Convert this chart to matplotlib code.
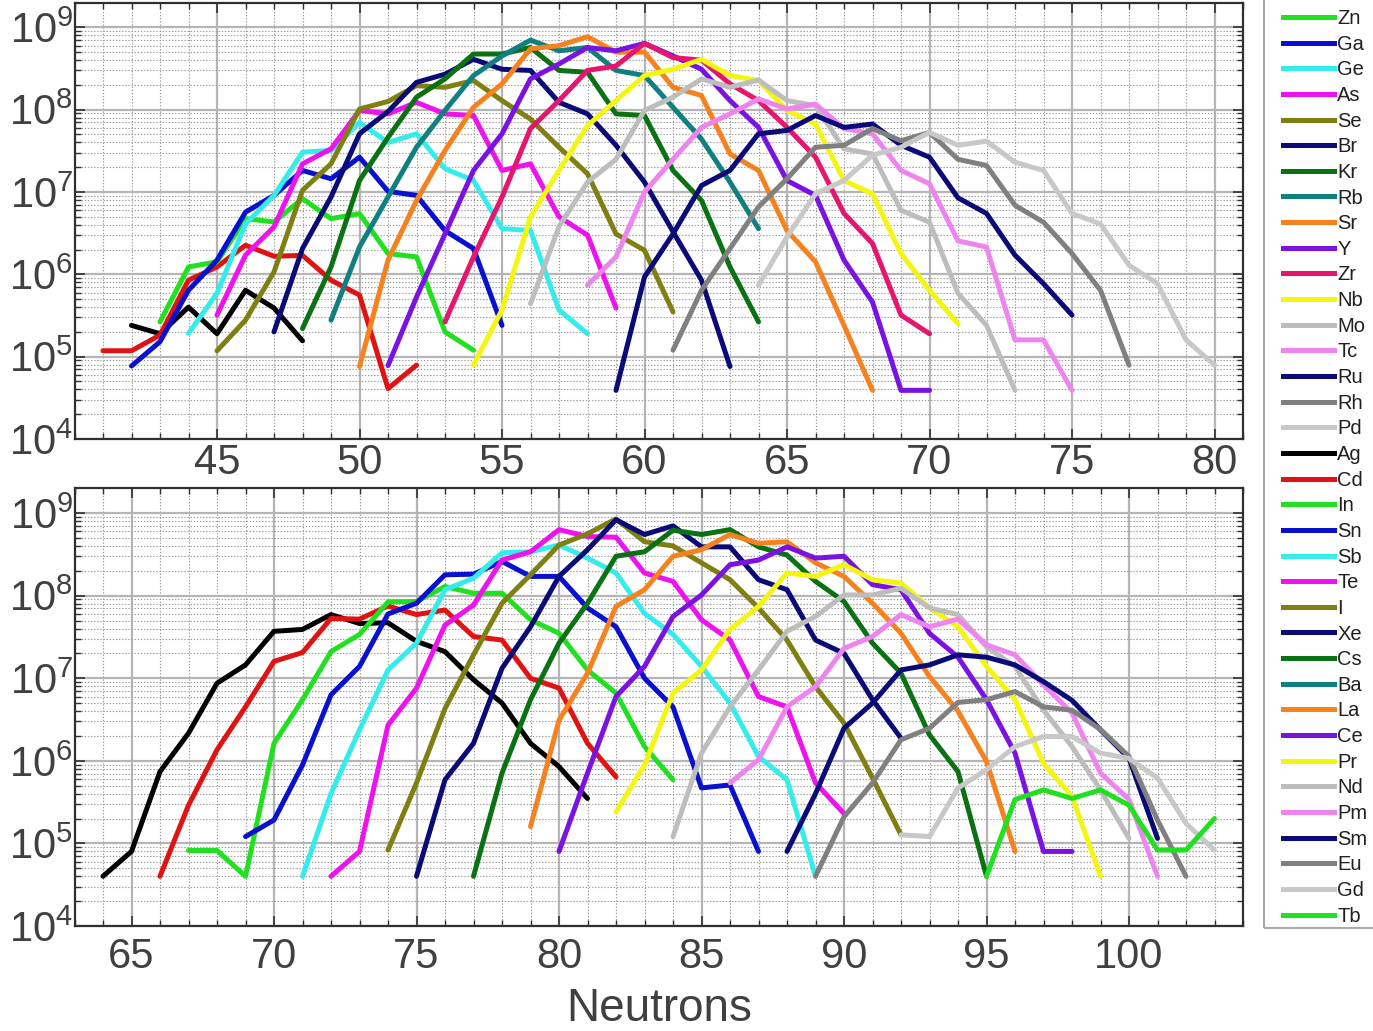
import matplotlib
matplotlib.use("Agg")
import matplotlib.pyplot as plt
from matplotlib.lines import Line2D
from matplotlib.patches import Rectangle
from matplotlib.ticker import MultipleLocator, LogLocator, NullFormatter, FixedLocator
import numpy as np

plt.rcParams['font.family'] = ['Liberation Sans', 'DejaVu Sans']
plt.rcParams['mathtext.fontset'] = 'custom'
plt.rcParams['mathtext.rm'] = 'Liberation Sans'
plt.rcParams['mathtext.it'] = 'Liberation Sans:italic'
plt.rcParams['mathtext.default'] = 'regular'

# ---------------- colours ----------------
C_GREEN = '#20e020'
C_BLUE = '#0a10d0'
C_CYAN = '#35ecec'
C_MAGENTA = '#ee12ee'
C_OLIVE = '#7f7f12'
C_NAVY = '#0a0a78'
C_DKGREEN = '#0a7212'
C_TEAL = '#0f7f7f'
C_ORANGE = '#f5821f'
C_PURPLE = '#7a12e2'
C_CRIMSON = '#e6156e'
C_YELLOW = '#f5f512'
C_SILVER = '#bdbdbd'
C_PINK = '#ee85ee'
C_GRAY = '#808080'
C_LTGRAY = '#c8c8c8'
C_BLACK = '#000000'
C_RED = '#e01212'

# ---------------- data: top panel (first neutron number, yields) ----------------
Ni_N = 42; Ni = [2.4e5, 1.9e5, 4.0e5, 1.9e5, 6.4e5, 3.9e5, 1.56e5]
Cu_N = 41; Cu = [1.18e5, 1.18e5, 1.83e5, 8.5e5, 1.23e6, 2.26e6, 1.66e6, 1.7e6, 8.5e5, 5.6e5, 4.1e4, 7.9e4]
Zn_N = 43; Zn = [2.65e5, 1.23e6, 1.42e6, 4.75e6, 4.33e6, 8.3e6, 4.75e6, 5.46e6, 1.79e6, 1.63e6, 2.0e5, 1.2e5]
Ga_N = 42; Ga = [7.7e4, 1.52e5, 6.4e5, 1.49e6, 5.7e6, 9.1e6, 1.83e7, 1.45e7, 2.65e7, 1.02e7, 9.1e6, 3.4e6, 2.06e6, 2.4e5]
Ge_N = 44; Ge = [1.92e5, 5.9e5, 4.1e6, 9.1e6, 3.05e7, 3.2e7, 7.0e7, 4.0e7, 5.1e7, 1.92e7, 1.38e7, 3.6e6, 3.4e6, 3.7e5, 1.9e5]
As_N = 45; As = [3.2e5, 1.71e6, 3.77e6, 2.2e7, 3.35e7, 9.8e7, 8.9e7, 1.23e8, 8.9e7, 8.5e7, 1.83e7, 2.2e7, 5.0e6, 3.0e6, 3.9e5]
Se_N = 45; Se = [1.18e5, 2.78e5, 1.07e6, 1.05e7, 2.2e7, 1.02e8, 1.26e8, 1.96e8, 1.87e8, 2.26e8, 1.29e8, 7.7e7, 3.5e7, 1.67e7, 3.1e6, 1.96e6, 3.5e5]
Br_N = 47; Br = [2.0e5, 2.06e6, 8.7e6, 5.1e7, 9.5e7, 2.15e8, 2.7e8, 4.1e8, 3.1e8, 3.0e8, 1.23e8, 8.9e7, 3.7e7, 1.32e7, 3.3e6, 8.5e5, 7.6e4]
Kr_N = 48; Kr = [2.2e5, 1.23e6, 1.38e7, 4.6e7, 1.42e8, 2.37e8, 4.75e8, 4.75e8, 5.7e8, 3.0e8, 2.85e8, 8.9e7, 8.5e7, 1.83e7, 7.9e6, 1.23e6, 2.65e5]
Rb_N = 49; Rb = [2.78e5, 2.15e6, 8.7e6, 3.5e7, 9.8e7, 2.6e8, 4.5e8, 7.0e8, 5.2e8, 5.7e8, 3.0e8, 2.6e8, 1.07e8, 4.4e7, 1.32e7, 3.6e6]
Sr_N = 50; Sr = [7.6e4, 1.49e6, 7.9e6, 3.2e7, 1.07e8, 2.06e8, 5.5e8, 6.0e8, 7.7e8, 5.0e8, 5.0e8, 1.87e8, 1.49e8, 2.9e7, 1.83e7, 3.4e6, 1.42e6, 2.4e5, 3.9e4]
Y_N = 51; Y = [7.8e4, 5.3e5, 3.1e6, 1.83e7, 5.1e7, 2.37e8, 3.6e8, 5.7e8, 5.2e8, 6.4e8, 4.5e8, 3.1e8, 1.29e8, 6.1e7, 1.38e7, 9.1e6, 1.49e6, 4.6e5, 3.9e4, 3.9e4]
Zr_N = 53; Zr = [2.65e5, 1.63e6, 8.7e6, 5.9e7, 1.29e8, 3.0e8, 3.4e8, 6.4e8, 4.3e8, 4.0e8, 2.06e8, 1.29e8, 6.1e7, 2.65e7, 5.5e6, 2.37e6, 3.2e5, 1.9e5]
Nb_N = 54; Nb = [7.9e4, 3.7e5, 5.0e6, 1.83e7, 6.4e7, 1.29e8, 2.6e8, 3.1e8, 4.1e8, 2.6e8, 2.26e8, 9.8e7, 6.7e7, 1.38e7, 9.5e6, 1.79e6, 6.4e5, 2.5e5]
Mo_N = 56; Mo = [4.4e5, 3.8e6, 1.32e7, 2.5e7, 9.8e7, 1.42e8, 2.37e8, 1.87e8, 2.3e8, 1.29e8, 1.12e8, 3.35e7, 2.9e7, 6.0e6, 4.3e6, 5.9e5, 2.4e5, 3.9e4]
Tc_N = 58; Tc = [7.4e5, 1.63e6, 1.0e7, 2.5e7, 6.1e7, 8.9e7, 1.35e8, 1.02e8, 1.17e8, 5.9e7, 5.1e7, 1.83e7, 1.26e7, 2.55e6, 2.15e6, 1.6e5, 1.6e5, 3.9e4]
Ru_N = 59; Ru = [3.9e4, 9.3e5, 3.1e6, 1.2e7, 1.83e7, 5.1e7, 5.6e7, 8.5e7, 6.1e7, 6.7e7, 3.7e7, 2.65e7, 8.5e6, 5.5e6, 1.71e6, 7.7e5, 3.2e5]
Rh_N = 61; Rh = [1.2e5, 6.4e5, 2.06e6, 6.6e6, 1.45e7, 3.5e7, 3.7e7, 5.9e7, 4.2e7, 5.3e7, 2.5e7, 2.1e7, 6.9e6, 4.3e6, 1.79e6, 6.4e5, 7.9e4]
Pd_N = 64; Pd = [7.4e5, 2.85e6, 9.5e6, 1.38e7, 2.8e7, 3.5e7, 5.3e7, 3.7e7, 4.15e7, 2.3e7, 1.83e7, 5.5e6, 4.1e6, 1.29e6, 7.7e5, 1.6e5, 7.9e4]

# ---------------- data: bottom panel ----------------
Ag_N = 64; Ag = [4.0e4, 8.0e4, 7.4e5, 2.16e6, 8.7e6, 1.45e7, 3.7e7, 3.9e7, 5.9e7, 4.6e7, 4.7e7, 2.8e7, 2.1e7, 9.6e6, 5.0e6, 1.63e6, 8.5e5, 3.5e5]
Cd_N = 66; Cd = [4.0e4, 2.9e5, 1.36e6, 4.5e6, 1.6e7, 2.05e7, 5.3e7, 5.2e7, 7.5e7, 5.9e7, 6.7e7, 3.2e7, 2.9e7, 1.0e7, 7.6e6, 1.63e6, 6.4e5]
In_N = 67; In = [8.2e4, 8.2e4, 4.0e4, 1.63e6, 5.5e6, 2.1e7, 3.4e7, 8.4e7, 8.5e7, 1.29e8, 1.07e8, 1.07e8, 5.1e7, 3.5e7, 1.26e7, 6.6e6, 1.49e6, 5.9e5]
Sn_N = 69; Sn = [1.21e5, 1.92e5, 8.9e5, 6.3e6, 1.39e7, 6.0e7, 8.1e7, 1.79e8, 1.82e8, 2.6e8, 1.71e8, 1.71e8, 7.1e7, 4.2e7, 1.0e7, 4.5e6, 4.7e5, 5.1e5, 8.0e4]
Sb_N = 71; Sb = [4.0e4, 4.0e5, 2.37e6, 1.26e7, 2.66e7, 1.18e8, 1.63e8, 3.3e8, 3.4e8, 4.1e8, 2.85e8, 1.88e8, 6.1e7, 3.4e7, 1.39e7, 5.0e6, 1.13e6, 5.9e5, 4.0e4]
Te_N = 72; Te = [4.0e4, 8.0e4, 2.7e6, 7.6e6, 4.4e7, 7.7e7, 2.7e8, 3.4e8, 6.3e8, 5.2e8, 5.1e8, 1.88e8, 1.49e8, 5.1e7, 2.9e7, 6.0e6, 4.5e6, 5.4e5, 2.3e5]
I_N = 74; I = [8.3e4, 5.4e5, 4.3e6, 1.92e7, 8.1e7, 1.79e8, 4.1e8, 5.6e8, 8.5e8, 4.5e8, 4.0e8, 2.5e8, 1.56e8, 7.1e7, 2.9e7, 7.9e6, 2.86e6, 6.2e5, 1.27e5]
Xe_N = 75; Xe = [4.0e4, 5.9e5, 1.63e6, 1.32e7, 4.2e7, 1.71e8, 3.6e8, 8.3e8, 5.5e8, 7.0e8, 3.9e8, 3.9e8, 1.56e8, 1.18e8, 2.9e7, 2.0e7, 5.5e6, 1.88e6]
Cs_N = 77; Cs = [4.0e4, 7.1e5, 5.5e6, 2.66e7, 8.1e7, 3.0e8, 3.4e8, 6.2e8, 5.5e8, 6.3e8, 3.9e8, 3.1e8, 1.49e8, 8.5e7, 2.66e7, 1.15e7, 2.06e6, 7.4e5, 4.0e4]
La_N = 79; La = [1.6e5, 3.1e6, 1.15e7, 7.4e7, 1.18e8, 3.0e8, 3.6e8, 5.5e8, 4.3e8, 4.5e8, 2.5e8, 1.71e8, 8.1e7, 3.5e7, 1.05e7, 4.0e6, 9.8e5, 8.0e4]
Ce_N = 80; Ce = [8.0e4, 7.1e5, 6.0e6, 1.39e7, 5.6e7, 1.02e8, 2.37e8, 2.7e8, 3.9e8, 2.85e8, 3.0e8, 1.36e8, 1.18e8, 3.5e7, 1.8e7, 5.5e6, 1.24e6, 8.0e4, 8.0e4]
Pr_N = 82; Pr = [2.4e5, 8.9e5, 6.6e6, 1.26e7, 3.9e7, 7.4e7, 1.88e8, 1.71e8, 2.37e8, 1.56e8, 1.42e8, 7.1e7, 4.2e7, 1.39e7, 5.5e6, 9.3e5, 3.7e5, 4.0e4]
Nd_N = 84; Nd = [1.21e5, 1.24e6, 4.5e6, 1.26e7, 3.7e7, 5.6e7, 1.02e8, 1.02e8, 1.23e8, 7.1e7, 5.9e7, 2.4e7, 1.39e7, 4.1e6, 1.49e6, 4.45e5, 1.15e5]
Pm_N = 86; Pm = [5.4e5, 1.03e6, 4.5e6, 7.9e6, 2.3e7, 3.2e7, 5.9e7, 4.2e7, 5.2e7, 2.54e7, 1.92e7, 8.3e6, 3.8e6, 7.1e5, 3.4e5, 4.0e4]
Sm_N = 88; Sm = [8.0e4, 4.0e5, 2.48e6, 5.0e6, 1.26e7, 1.45e7, 1.92e7, 1.8e7, 1.45e7, 9.1e6, 5.4e6, 2.37e6, 1.07e6, 1.15e5]
Eu_N = 89; Eu = [4.0e4, 2.1e5, 5.4e5, 1.8e6, 2.48e6, 5.1e6, 5.5e6, 6.9e6, 4.5e6, 4.1e6, 2.4e6, 1.13e6, 1.92e5, 4.0e4]
Gd_N = 92; Gd = [1.27e5, 1.21e5, 4.7e5, 7.8e5, 1.49e6, 1.97e6, 1.97e6, 1.24e6, 1.07e6, 6.2e5, 1.75e5, 8.3e4]
Tb_N = 95; Tb = [4.0e4, 3.4e5, 4.45e5, 3.5e5, 4.45e5, 2.9e5, 8.3e4, 8.3e4, 2.0e5]

top_series = [
    (Ni_N, Ni, C_BLACK), (Cu_N, Cu, C_RED), (Zn_N, Zn, C_GREEN), (Ga_N, Ga, C_BLUE),
    (Ge_N, Ge, C_CYAN), (As_N, As, C_MAGENTA), (Se_N, Se, C_OLIVE), (Br_N, Br, C_NAVY),
    (Kr_N, Kr, C_DKGREEN), (Rb_N, Rb, C_TEAL), (Sr_N, Sr, C_ORANGE), (Y_N, Y, C_PURPLE),
    (Zr_N, Zr, C_CRIMSON), (Nb_N, Nb, C_YELLOW), (Mo_N, Mo, C_SILVER), (Tc_N, Tc, C_PINK),
    (Ru_N, Ru, C_NAVY), (Rh_N, Rh, C_GRAY), (Pd_N, Pd, C_LTGRAY),
]
bottom_series = [
    (Ag_N, Ag, C_BLACK), (Cd_N, Cd, C_RED), (In_N, In, C_GREEN), (Sn_N, Sn, C_BLUE),
    (Sb_N, Sb, C_CYAN), (Te_N, Te, C_MAGENTA), (I_N, I, C_OLIVE), (Xe_N, Xe, C_NAVY),
    (Cs_N, Cs, C_DKGREEN), (La_N, La, C_ORANGE), (Ce_N, Ce, C_PURPLE), (Pr_N, Pr, C_YELLOW),
    (Nd_N, Nd, C_SILVER), (Pm_N, Pm, C_PINK), (Sm_N, Sm, C_NAVY), (Eu_N, Eu, C_GRAY),
    (Gd_N, Gd, C_LTGRAY), (Tb_N, Tb, C_GREEN),
]

legend_labels = ['Zn', 'Ga', 'Ge', 'As', 'Se', 'Br', 'Kr', 'Rb', 'Sr', 'Y', 'Zr', 'Nb',
                 'Mo', 'Tc', 'Ru', 'Rh', 'Pd', 'Ag', 'Cd', 'In', 'Sn', 'Sb', 'Te', 'I',
                 'Xe', 'Cs', 'Ba', 'La', 'Ce', 'Pr', 'Nd', 'Pm', 'Sm', 'Eu', 'Gd', 'Tb']
legend_colors = [C_GREEN, C_BLUE, C_CYAN, C_MAGENTA, C_OLIVE, C_NAVY, C_DKGREEN, C_TEAL,
                 C_ORANGE, C_PURPLE, C_CRIMSON, C_YELLOW, C_SILVER, C_PINK, C_NAVY, C_GRAY,
                 C_LTGRAY, C_BLACK, C_RED, C_GREEN, C_BLUE, C_CYAN, C_MAGENTA, C_OLIVE,
                 C_NAVY, C_DKGREEN, C_TEAL, C_ORANGE, C_PURPLE, C_YELLOW, C_SILVER, C_PINK,
                 C_NAVY, C_GRAY, C_LTGRAY, C_GREEN]

top_xticks = [45, 50, 55, 60, 65, 70, 75, 80]
bottom_xticks = [65, 70, 75, 80, 85, 90, 95, 100]
ytick_exps = [4, 5, 6, 7, 8, 9]

W, H = 1373, 1031
fig = plt.figure(figsize=(W / 100, H / 100), dpi=100)
L, R = 74.5, 1243
ax1 = fig.add_axes([L / W, 1 - 439 / H, (R - L) / W, (439 - 2.7) / H])
ax2 = fig.add_axes([L / W, 1 - 926 / H, (R - L) / W, (926 - 488.3) / H])

LW = 3.6
for ax, series in ((ax1, top_series), (ax2, bottom_series)):
    for n0, vals, col in series:
        xs = np.arange(n0, n0 + len(vals))
        ax.plot(xs, vals, color=col, lw=LW, solid_capstyle='round', solid_joinstyle='round')

TXT = '#404040'

def style(ax, xlim, xticks, xpad):
    ax.set_yscale('log')
    ax.set_ylim(1e4, 10 ** 9.3)
    ax.set_xlim(*xlim)
    ax.xaxis.set_major_locator(FixedLocator(xticks))
    ax.xaxis.set_minor_locator(MultipleLocator(1))
    ax.set_yticks([10.0 ** e for e in ytick_exps])
    ax.set_yticklabels([f'$10^{{{e}}}$' for e in ytick_exps])
    ax.yaxis.set_minor_locator(LogLocator(base=10, subs=np.arange(2, 10), numticks=30))
    ax.yaxis.set_minor_formatter(NullFormatter())
    ax.tick_params(which='both', direction='in', top=True, right=True, color='#303030')
    ax.tick_params(which='major', length=7, width=1.2, labelsize=30, labelcolor=TXT)
    ax.tick_params(which='minor', length=4.5, width=1.0)
    ax.tick_params(axis='y', which='major', pad=1)
    ax.tick_params(axis='x', which='major', pad=xpad)
    ax.grid(which='major', color='#b5b5b5', lw=1.6, ls='-')
    ax.grid(which='minor', color='#9a9a9a', lw=0.8, ls=(0, (1.2, 1.6)))
    ax.set_axisbelow(True)
    for s in ax.spines.values():
        s.set_color('#303030')
        s.set_linewidth(1.6)

style(ax1, (40, 81), top_xticks, 3)
style(ax2, (63, 104), bottom_xticks, 8)

ax2.set_xlabel('Neutrons', fontsize=33, color=TXT, va='baseline')
ax2.xaxis.set_label_coords(0.5, (926 - 1021) / (926 - 488.3))

# legend frame (drawn separately, it runs off the right edge as in the original)
fig.add_artist(Rectangle((1263.5 / W, 1 - 928 / H), 0.2, 928 / H + 0.05,
                         transform=fig.transFigure, fill=False, edgecolor='#a8a8a8',
                         lw=1.5, clip_on=False))
handles = [Line2D([], [], color=c, lw=LW) for c in legend_colors]
leg = fig.legend(handles, legend_labels, loc='upper left',
                 bbox_to_anchor=(1283 / W, 1 - 9 / H), borderaxespad=0,
                 fontsize=14.5, handlelength=2.55, handletextpad=0.15,
                 labelspacing=0.33, borderpad=0, frameon=False)
for t in leg.get_texts():
    t.set_color('#202020')

fig.savefig('out.png', dpi=100)
